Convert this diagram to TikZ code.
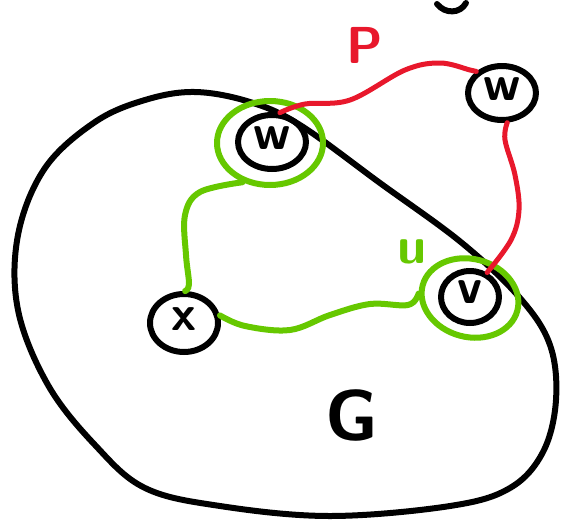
\documentclass[tikz,border=0pt]{standalone}
\usetikzlibrary{shapes.geometric}
\definecolor{pred}{RGB}{232,24,44}
\definecolor{pgreen}{RGB}{102,200,0}
\begin{document}
\begin{tikzpicture}[x=1pt,y=-1pt, line cap=round, line join=round,
 vert/.style={ellipse, draw=black, line width=6pt, inner sep=0pt},
 vlabel/.style={font=\sffamily\bfseries\fontsize{50}{50}\selectfont},
 ring/.style={ellipse, draw=pgreen, line width=6pt, inner sep=0pt},
 blob/.style={draw=black, line width=6pt},
 ppath/.style={draw=pred, line width=5pt},
 upath/.style={draw=pgreen, line width=6pt},
 lbl/.style={font=\sffamily\bfseries\fontsize{52}{52}\selectfont}]
\useasboundingbox (0,0) rectangle (563,523);
% graph G outline
\draw[blob] plot[smooth cycle, tension=0.6] coordinates {(195,92) (250,102) (300,125) (380,183) (462,243) (520,298) (550,345) (556,400) (543,452) (510,488) (450,506) (330,516) (220,506) (145,488) (95,445) (48,385) (18,310) (18,235) (45,168) (95,122) (145,100)};
% top partial mark
\draw[line width=6pt] (437,4) .. controls (445,14) and (460,14) .. (466,3);
% vertices
\node[vert, minimum width=68pt, minimum height=54pt] (w1) at (272,142) {};
\node[vlabel] (w1t) at (272,138) {w};
\node[vert, minimum width=68pt, minimum height=54pt] (w2) at (502,93) {};
\node[vlabel] (w2t) at (502,89) {w};
\node[vert, minimum width=58pt, minimum height=52pt] (v) at (470,297) {};
\node[vlabel] (vt) at (470,292) {v};
\node[vert, minimum width=68pt, minimum height=58pt] (x) at (184,323) {};
\node[vlabel] (xt) at (184,319) {x};
% green rings
\node[ring, minimum width=106pt, minimum height=84pt] (r1) at (270,143) {};
\node[ring, minimum width=98pt, minimum height=78pt, rotate=-15] (r2) at (470,298) {};
% path P
\draw[ppath] plot[smooth, tension=0.6] coordinates {(w1.75) (305,104) (350,100) (405,70) (440,63) (470,70) (w2.140)};
\draw[ppath] plot[smooth, tension=0.6] coordinates {(w2.-80) (505,140) (515,175) (519,210) (511,240) (v.55)};
% path U
\draw[upath] plot[smooth, tension=0.6] coordinates {(r1.235) (200,192) (185,215) (186,255) (189,284) (x.88)};
\draw[upath] plot[smooth, tension=0.6] coordinates {(x.12) (245,326) (290,330) (330,315) (370,304) (408,305) (r2.190)};
% labels
\node[lbl, text=pred] (P) at (365,45) {P};
\node[lbl, text=pgreen] (U) at (412,252) {u};
\node[lbl, font=\sffamily\bfseries\fontsize{72}{72}\selectfont] (G) at (352,415) {G};
\end{tikzpicture}
\end{document}
